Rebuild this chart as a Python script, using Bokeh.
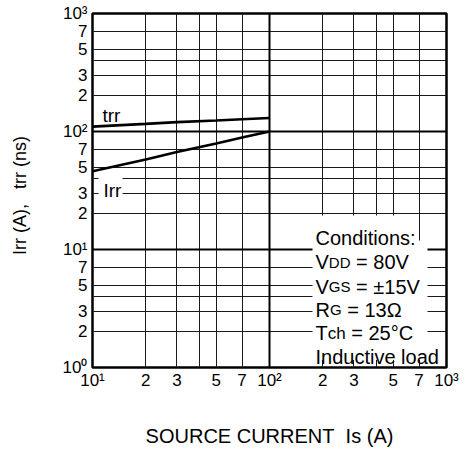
from bokeh.plotting import figure
from bokeh.models import FixedTicker, Label, BoxAnnotation, Grid
from bokeh.embed import file_html
from bokeh.resources import INLINE

# ---- data ----
source_current = [10, 20, 30, 50, 70, 100]       # Is (A)
trr_ns = [110, 116, 120, 124, 127, 130]          # trr (ns)
irr_a = [46, 58, 67, 79, 89, 100]                # Irr (A)

x_ticks = [10, 20, 30, 50, 70, 100, 200, 300, 500, 700, 1000]
x_tick_labels = ["10\u00b9", "2", "3", "5", "7", "10\u00b2", "2", "3", "5", "7", "10\u00b3"]
x_grid = [10, 20, 30, 40, 50, 70, 100, 200, 300, 400, 500, 700, 1000]

y_ticks = [1, 2, 3, 5, 7, 10, 20, 30, 50, 70, 100, 200, 300, 500, 700, 1000]
y_tick_labels = ["10\u2070", "2", "3", "5", "7", "10\u00b9", "2", "3", "5", "7",
                 "10\u00b2", "2", "3", "5", "7", "10\u00b3"]
y_grid = [1, 2, 3, 4, 5, 7, 10, 20, 30, 40, 50, 70, 100, 200, 300, 400, 500, 700, 1000]

conditions = [
    [("Conditions:", "n")],
    [("V", "n"), ("DD", "s"), ("\u00a0=\u00a080V", "n")],
    [("V", "n"), ("GS", "s"), ("\u00a0=\u00a0\u00b115V", "n")],
    [("R", "n"), ("G", "s"), ("\u00a0=\u00a013\u03a9", "n")],
    [("T", "n"), ("ch", "c"), ("\u00a0=\u00a025\u00b0C", "n")],
    [("Inductive load", "n")],
]

x_title = "SOURCE\u00a0CURRENT\u00a0\u00a0Is\u00a0(A)"
y_title = "Irr\u00a0(A),\u00a0\u00a0\u00a0trr\u00a0(ns)\u00a0\u00a0"

FONT = "Liberation Sans"

# Arial / Liberation Sans advance widths (per em)
ADV = {" ": .278, "\u00a0": .278, "V": .667, "D": .722, "G": .778, "S": .667, "R": .722,
       "T": .611, "c": .5, "h": .556, "=": .584, "\u00b1": .584, "\u03a9": .768,
       "\u00b0": .4, "C": .722, "I": .278, "(": .333, ")": .333, "A": .667}
for d in "0123456789":
    ADV[d] = .556


def text_width(s, size):
    return sum(ADV.get(ch, .556) for ch in s) * size


# frame geometry (page pixels)
FL, FT, DX, DY = 92, 13, 177, 118
FB = FT + 3 * DY
W, H = 464, 452


def xd(px):
    return 10 ** (1 + (px - FL) / DX)


def yd(py):
    return 10 ** ((FB - py) / DY)


p = figure(width=W, height=H, x_axis_type="log", y_axis_type="log",
           x_range=(10, 1000), y_range=(1, 1000),
           output_backend="svg", toolbar_location=None,
           min_border_left=FL, min_border_right=W - FL - 2 * DX,
           min_border_top=FT, min_border_bottom=H - FB)
p.background_fill_color = "white"
p.border_fill_color = "white"
p.outline_line_color = "black"
p.outline_line_width = 2.5

for ax, ticks, labels in ((p.xaxis, x_ticks, x_tick_labels), (p.yaxis, y_ticks, y_tick_labels)):
    ax.ticker = FixedTicker(ticks=ticks)
    ax.major_label_overrides = dict(zip(ticks, labels))
    ax.axis_line_color = None
    ax.major_tick_line_color = None
    ax.minor_tick_line_color = None
    ax.major_tick_out = 0
    ax.major_tick_in = 0
    ax.minor_tick_out = 0
    ax.minor_tick_in = 0
    ax.major_label_text_font = FONT
    ax.major_label_text_font_size = "17px"
    ax.major_label_text_color = "black"
    ax.axis_label_text_font = FONT
    ax.axis_label_text_font_style = "normal"
    ax.axis_label_text_color = "black"
p.xaxis.major_label_standoff = 3
p.yaxis.major_label_standoff = 5
p.xaxis.axis_label = x_title
p.xaxis.axis_label_text_font_size = "20px"
p.xaxis.axis_label_standoff = 32
p.yaxis.axis_label = y_title
p.yaxis.axis_label_text_font_size = "18px"
p.yaxis.axis_label_standoff = 30

p.xgrid.ticker = FixedTicker(ticks=x_grid)
p.ygrid.ticker = FixedTicker(ticks=y_grid)
for g in (p.xgrid, p.ygrid):
    g.grid_line_color = "#1a1a1a"
    g.grid_line_width = 1
    g.grid_line_alpha = 1

p.add_layout(Grid(dimension=0, ticker=FixedTicker(ticks=[100]),
                  grid_line_color="black", grid_line_width=2))
p.add_layout(Grid(dimension=1, ticker=FixedTicker(ticks=[10, 100]),
                  grid_line_color="black", grid_line_width=2))

p.line(source_current, trr_ns, line_color="black", line_width=2.6)
p.line(source_current, irr_a, line_color="black", line_width=2.6)


def box(l, r, t, b):
    p.add_layout(BoxAnnotation(left=xd(l), right=xd(r), top=yd(t), bottom=yd(b),
                               fill_color="white", fill_alpha=1.0, line_color=None))


def text(px, py, s, size, align="left"):
    p.add_layout(Label(x=xd(px), y=yd(py), text=s, text_font=FONT,
                       text_font_size=f"{size}px", text_color="black",
                       text_align=align, text_baseline="alphabetic"))


# white masks behind the texts
box(312, 417, 215, 240)
box(312, 427, 240, 335.5)
box(312, 440, 335.5, 359.5)
box(98, 122, 176, 195)

# curve labels
text(102, 115, "trr", 19)
text(103, 190, "Irr", 19)

# conditions block
MAIN, SMALL, MID = 20, 15, 17
baselines = [237.3, 261.7, 286, 309.3, 332.7, 356.7]
for row, by in zip(conditions, baselines):
    xx = 315
    for s, kind in row:
        size = MAIN if kind == "n" else (SMALL if kind == "s" else MID)
        text(xx, by, s, size)
        xx += text_width(s, size)

open("out.html", "w").write(file_html(p, INLINE))
